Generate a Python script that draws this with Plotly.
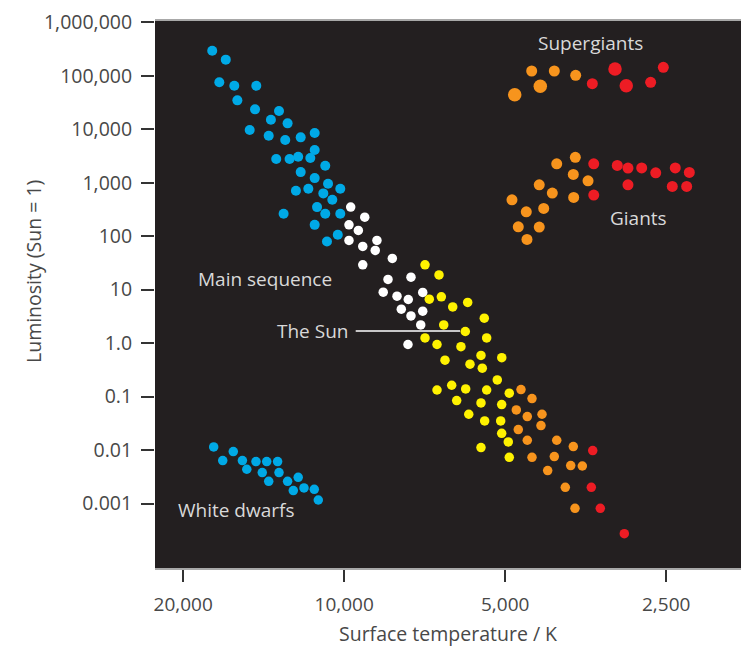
import plotly.graph_objects as go

# ---------------- data (surface temperature K, luminosity Sun=1) ----------------
ms_blue_T = [17650, 16650, 17120, 16050, 14600, 15840, 14680, 13240, 13710, 12760,
             15020, 13840, 12890, 12060, 11355, 11355, 13400, 12650, 12190, 11570,
             10850, 12060, 11355, 10720, 10170, 12310, 11670, 10940, 10525, 11240,
             10850, 10170, 12980, 11355, 10280, 10770]
ms_blue_L = [294000, 200000, 75400, 65100, 65100, 34700, 23550, 21890, 15050, 12880,
             9650, 7550, 6275, 7047, 8484, 4077, 2767, 2767, 3055, 2888,
             2073, 1580, 1220, 954, 769, 706, 769, 631, 479, 350,
             262, 262, 262, 163, 106, 79.8]

ms_white_T = [9724, 9153, 9796, 9409, 9796, 9232, 8685, 8749, 9232, 8129, 8281,
              7501, 8453, 7966, 7589, 7131, 7820, 7501, 7131, 7193, 7599]
ms_white_L = [350, 227, 163, 128, 83.3, 64.3, 83.3, 54.1, 29.1, 38.4, 15.5,
              17.1, 8.98, 7.56, 6.55, 8.86, 4.32, 3.23, 3.96, 2.19, 0.943]

ms_yellow_T = [7061, 6648, 6932, 6582, 6267, 5876, 5471, 6515, 5937, 5415, 7061, 6706,
               6049, 5549, 5074, 6479, 5818, 5518, 5173, 6706, 6295, 5927, 5415, 4913,
               6161, 5549, 5076, 5849, 5462, 5098, 5076, 4934, 5549, 4913]
ms_yellow_L = [29.1, 18.9, 6.64, 7.33, 4.76, 5.76, 2.93, 2.19, 1.65, 1.25, 1.25, 0.943,
               0.858, 0.59, 0.534, 0.48, 0.404, 0.34, 0.205, 0.133, 0.163, 0.139, 0.133, 0.1157,
               0.0845, 0.0762, 0.0711, 0.0468, 0.0351, 0.0351, 0.0206, 0.01419, 0.01115, 0.00734]

ms_orange_T = [4671, 4455, 4766, 4546, 4267, 4286, 4726, 4546, 4005, 3729, 4455,
               4047, 3771, 3587, 4164, 3860, 3702]
ms_orange_L = [0.1357, 0.092, 0.0563, 0.0424, 0.0468, 0.0288, 0.0242, 0.01527, 0.01527,
               0.01164, 0.00734, 0.00757, 0.00513, 0.00504, 0.00414, 0.002015, 0.000815]

ms_red_T = [3430, 3451, 3320, 2994]
ms_red_L = [0.0098, 0.002015, 0.000815, 0.000274]

wd_T = [17540, 16120, 16870, 15500, 14620, 13960, 13320, 15210, 14230, 13240,
        13840, 12760, 12190, 12450, 11890, 11375, 11180]
wd_L = [0.01144, 0.00938, 0.00637, 0.00637, 0.0061, 0.0061, 0.0061, 0.00438, 0.0038,
        0.0038, 0.00261, 0.00261, 0.0031, 0.00175, 0.00196, 0.00185, 0.001166]

sg_orange_T = [4461, 4047, 3691]
sg_orange_L = [122700, 122700, 101900]
sg_orange_big_T = [4799, 4299]
sg_orange_big_L = [44200, 63440]
sg_red_T = [3436, 2673, 2531]
sg_red_L = [71000, 75400, 143900]
sg_red_big_T = [3116, 2969]
sg_red_big_L = [133700, 65100]

giant_orange_T = [4005, 3697, 3729, 3500, 4318, 4082, 3723, 4856, 4236, 4566, 4726, 4318, 4552]
giant_orange_L = [2259, 2977, 1431, 1086, 914, 639, 531, 479, 331, 286, 150, 148, 87]
giant_red_T = [3415, 3415, 3086, 2947, 2778, 2615, 2404, 2263, 2947, 2435, 2289]
giant_red_L = [2259, 586, 2109, 1877, 1890, 1533, 1890, 1560, 914, 853, 853]

x_ticks = [20000, 10000, 5000, 2500]
x_tick_text = ["20,000", "10,000", "5,000", "2,500"]
y_ticks = [0.001, 0.01, 0.1, 1, 10, 100, 1000, 10000, 100000, 1000000]
y_tick_text = ["0.001", "0.01", "0.1", "1.0", "10", "100", "1,000", "10,000",
               "100,000", "1,000,000"]

# ---------------- styles ----------------
BLUE = "#00A9E6"
WHITE = "#FFFFFF"
YELLOW = "#FFF200"
ORANGE = "#F7941D"
RED = "#ED1C24"
BG = "#231F20"
FONT = "Open Sans"
LABEL = "#D9D9D9"
TICKTXT = "#484848"

fig = go.Figure()


def add(xs, ys, color, size):
    fig.add_trace(go.Scatter(x=xs, y=ys, mode="markers",
                             marker=dict(color=color, size=size, line=dict(width=0)),
                             showlegend=False, hoverinfo="x+y"))


add(ms_blue_T, ms_blue_L, BLUE, 10)
add(ms_white_T, ms_white_L, WHITE, 9.5)
add(ms_yellow_T, ms_yellow_L, YELLOW, 9.5)
add(ms_orange_T, ms_orange_L, ORANGE, 9.5)
add(ms_red_T, ms_red_L, RED, 9.5)
add(wd_T, wd_L, BLUE, 9.5)
add(sg_orange_T, sg_orange_L, ORANGE, 11)
add(sg_orange_big_T, sg_orange_big_L, ORANGE, 13.5)
add(sg_red_T, sg_red_L, RED, 11)
add(sg_red_big_T, sg_red_big_L, RED, 13.5)
add(giant_orange_T, giant_orange_L, ORANGE, 11)
add(giant_red_T, giant_red_L, RED, 11)

L_M, R_M, T_M, B_M = 155, 0, 21, 80
W, H = 741, 648
pw, ph = W - L_M - R_M, H - T_M - B_M


def px(xp):
    return (xp - L_M) / pw


def py(yp):
    return (H - B_M - yp) / ph


fig.update_layout(
    width=W, height=H,
    margin=dict(l=L_M, r=R_M, t=T_M, b=B_M),
    paper_bgcolor="white", plot_bgcolor=BG,
    font=dict(family=FONT, color=TICKTXT),
    xaxis=dict(type="log", range=[4.35376, 3.25805], tickvals=x_ticks, ticktext=x_tick_text,
               ticks="outside", ticklen=12, tickwidth=1.5, tickcolor="#333333",
               tickfont=dict(size=19, color=TICKTXT, family=FONT),
               showgrid=False, zeroline=False, showline=True, mirror=True,
               linecolor="#A8A8A8", linewidth=1.5, ticklabelstandoff=6),
    yaxis=dict(type="log", range=[-4.205, 6.024], tickvals=y_ticks, ticktext=y_tick_text,
               ticks="outside", ticklen=13, tickwidth=1.5, tickcolor="#333333",
               tickfont=dict(size=19.5, color=TICKTXT, family=FONT),
               showgrid=False, zeroline=False, showline=False, ticklabelstandoff=5),
)

annots = [
    dict(text="Surface temperature / K", x=0.5, y=py(633), xanchor="center", yanchor="middle",
         font=dict(size=19.5, color=TICKTXT, family=FONT)),
    dict(text="Luminosity (Sun = 1)", x=px(33), y=py(272), xanchor="center", yanchor="middle",
         textangle=-90, font=dict(size=19.5, color=TICKTXT, family=FONT)),
    dict(text="Supergiants", x=px(536), y=py(43), xanchor="left", yanchor="middle",
         font=dict(size=19, color=LABEL, family=FONT)),
    dict(text="Giants", x=px(608), y=py(218), xanchor="left", yanchor="middle",
         font=dict(size=19, color=LABEL, family=FONT)),
    dict(text="Main sequence", x=px(196), y=py(279), xanchor="left", yanchor="middle",
         font=dict(size=19, color=LABEL, family=FONT)),
    dict(text="The Sun", x=px(350), y=py(331), xanchor="right", yanchor="middle",
         font=dict(size=19, color=LABEL, family=FONT)),
    dict(text="White dwarfs", x=px(176), y=py(510), xanchor="left", yanchor="middle",
         font=dict(size=19, color=LABEL, family=FONT)),
]
for a in annots:
    fig.add_annotation(xref="paper", yref="paper", showarrow=False, **a)

fig.add_shape(type="line", xref="paper", yref="paper",
              x0=px(355.7), x1=px(460), y0=py(331), y1=py(331),
              line=dict(color="white", width=1.5))

fig.write_html("out.html", config={"displayModeBar": False})

# remove the default browser page margin so the figure sits at the window origin
with open("out.html", "r", encoding="utf-8") as f:
    html = f.read()
html = html.replace("<head>", "<head><style>html,body{margin:0;padding:0;overflow:hidden;}</style>", 1)
with open("out.html", "w", encoding="utf-8") as f:
    f.write(html)
